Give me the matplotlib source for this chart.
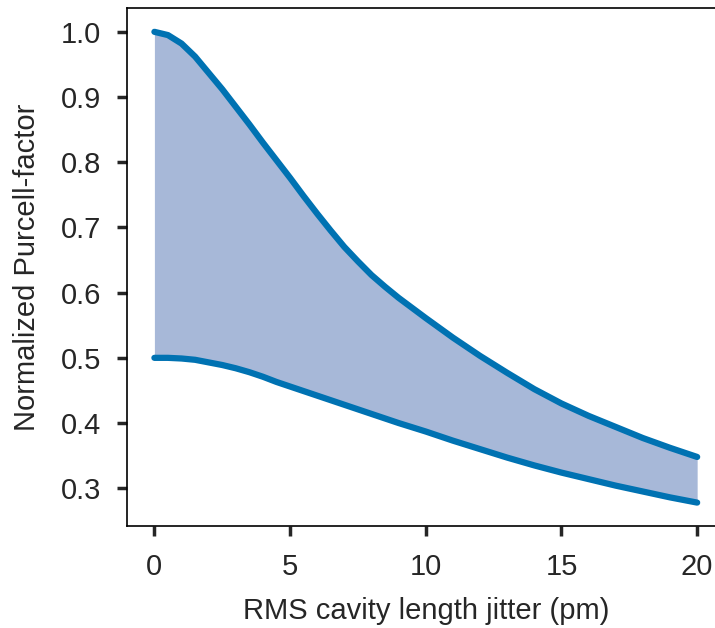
import matplotlib
matplotlib.use("Agg")
import matplotlib.pyplot as plt

# RMS cavity length jitter (pm)
jitter = [0, 0.5, 1, 1.5, 2, 2.5, 3, 3.5, 4, 4.5, 5, 5.5, 6, 6.5, 7, 7.5, 8, 8.5, 9, 10,
          11, 12, 13, 14, 15, 16, 17, 18, 19, 20]
# normalized Purcell factor bounds
purcell_upper = [1.000, 0.995, 0.982, 0.962, 0.937, 0.912, 0.885, 0.858, 0.830, 0.803,
                 0.776, 0.748, 0.721, 0.695, 0.670, 0.648, 0.627, 0.609, 0.592, 0.561,
                 0.531, 0.503, 0.477, 0.452, 0.430, 0.411, 0.394, 0.377, 0.362, 0.348]
purcell_lower = [0.500, 0.500, 0.499, 0.497, 0.493, 0.489, 0.484, 0.478, 0.471, 0.463,
                 0.456, 0.449, 0.442, 0.435, 0.428, 0.421, 0.414, 0.407, 0.400, 0.387,
                 0.373, 0.360, 0.347, 0.335, 0.324, 0.314, 0.304, 0.295, 0.286, 0.278]

plt.rcParams["font.family"] = ["Liberation Sans", "DejaVu Sans"]

line_color = "#0072b2"
fill_color = "#a7b8d8"

fig = plt.figure(figsize=(7.15, 6.28), dpi=100)
ax = fig.add_axes([0.178, 0.162, 0.835, 0.825])

ax.fill_between(jitter, purcell_lower, purcell_upper, color=fill_color, lw=0)
ax.plot(jitter, purcell_upper, color=line_color, lw=4.5, solid_capstyle="round")
ax.plot(jitter, purcell_lower, color=line_color, lw=4.5, solid_capstyle="round")

ax.set_xlim(-1, 21)
ax.set_ylim(0.2417, 1.0363)
ax.set_xticks([0, 5, 10, 15, 20])
ax.set_yticks([0.3, 0.4, 0.5, 0.6, 0.7, 0.8, 0.9, 1.0])

ax.set_xlabel("RMS cavity length jitter (pm)", fontsize=21, labelpad=12, color="#262626")
ax.set_ylabel("Normalized Purcell-factor", fontsize=21, labelpad=14, color="#262626")

ax.tick_params(axis="both", length=7, width=2.5, color="#262626",
               labelsize=21, labelcolor="#262626", pad=12)
for side in ax.spines.values():
    side.set_linewidth(1.2)
    side.set_color("black")

fig.savefig("out.png", dpi=100)
